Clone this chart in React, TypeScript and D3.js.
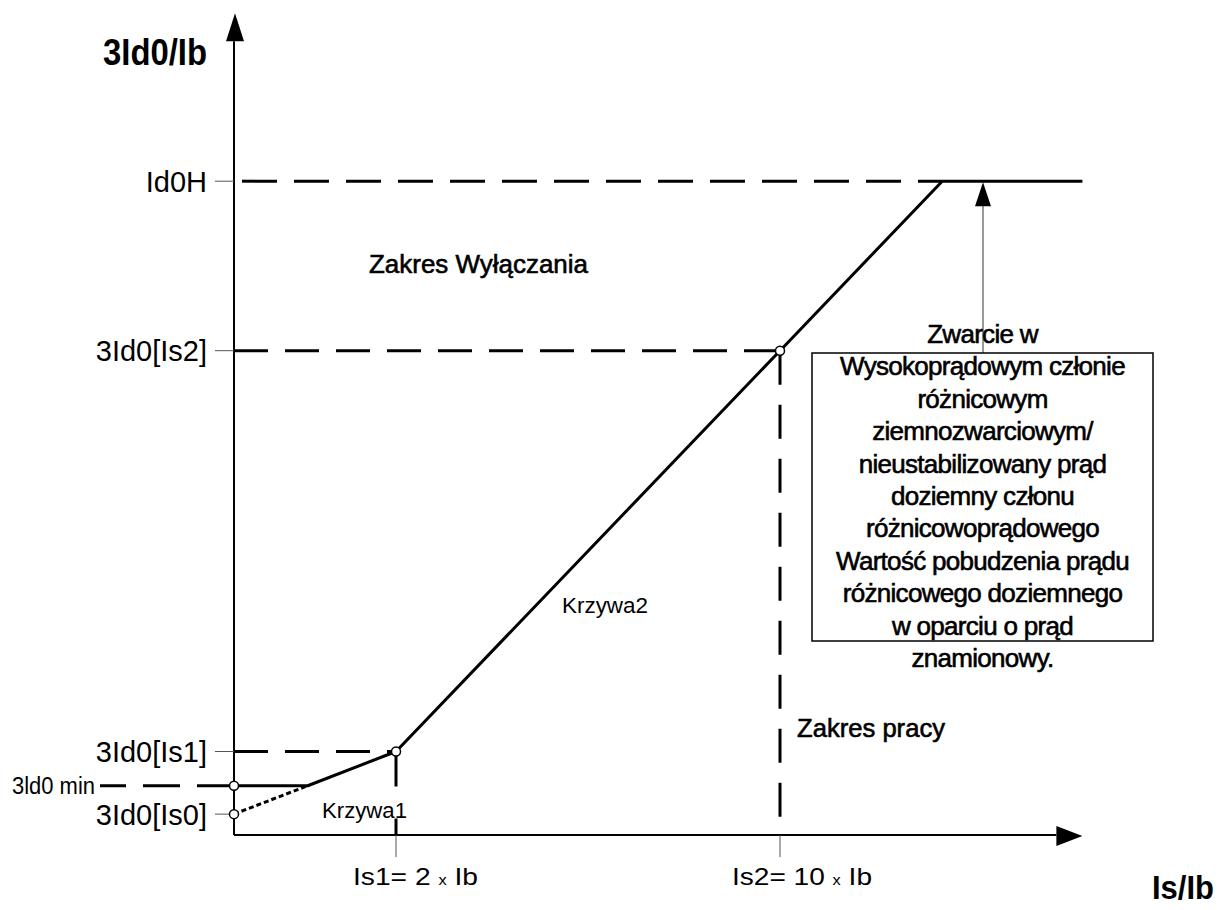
import React, { useEffect } from "react";
import * as d3 from "d3";

// tripping characteristic levels (3Id0/Ib, schematic)
const levelNames = ["3Id0[Is0]", "3ld0 min", "3Id0[Is1]", "3Id0[Is2]", "Id0H"];
const levelValues = [2.5, 5.9, 10, 58, 78.3];

// Is/Ib settings on the x axis
const settingNames = ["Is1= 2", "Is2= 10"];
const settingValues = [2, 10];

// operating curve (solid) and Krzywa1 extension (dotted)
const curveX = [0, 0.91, 2, 10, 13.38, 16.3];
const curveY = [5.9, 5.9, 10, 58, 78.3, 78.3];
const extX = [0, 0.91];
const extY = [2.5, 5.9];

const boxLines = [
  "Zwarcie w",
  "Wysokoprądowym członie",
  "różnicowym",
  "ziemnozwarciowym/",
  "nieustabilizowany prąd",
  "doziemny członu",
  "różnicowoprądowego",
  "Wartość pobudzenia prądu",
  "różnicowego doziemnego",
  "w oparciu o prąd",
  "znamionowy.",
];

const FONT = "'Liberation Sans', Arial, sans-serif";

const App = () => {
  useEffect(() => {
    document.body.style.margin = "0";
  }, []);

  const width = 1218;
  const height = 910;

  // Is/Ib axis is not to scale in the drawing, so use a piecewise scale
  const x = d3.scaleLinear().domain([0, 2, 10]).range([234, 396, 780]);
  const y = d3.scaleLinear().domain([0, 100]).range([835, 0]);

  const xMax = 16.3;
  const yMax = 98.4;
  const x0 = x(0);
  const y0 = y(0);

  const line = d3
    .line<number>()
    .x((d, i) => x(curveX[i]))
    .y((d, i) => y(curveY[i]));
  const extLine = d3
    .line<number>()
    .x((d, i) => x(extX[i]))
    .y((d, i) => y(extY[i]));

  const markers = [
    [0, levelValues[1]],
    [0, levelValues[0]],
    [settingValues[0], levelValues[2]],
    [settingValues[1], levelValues[3]],
  ];

  const idH = y(levelValues[4]);
  const kneeX = x(curveX[4]);
  const boxX = 812;
  const boxY = 353;
  const boxW = 341;
  const boxH = 288;
  const arrowX = boxX + boxW / 2 + 0.5;

  return (
    <svg width={width} height={height} style={{ display: "block", background: "#fff" }}>
      {/* axes */}
      <line x1={x0} y1={y0} x2={x0} y2={y(yMax) + 28} stroke="#000" strokeWidth={2} />
      <polygon
        points={`${x0 + 1},${y(yMax)} ${x0 - 8},${y(yMax) + 28} ${x0 + 10},${y(yMax) + 28}`}
        fill="#000"
      />
      <line x1={x0} y1={y0} x2={x(xMax) - 26} y2={y0} stroke="#000" strokeWidth={2} />
      <polygon
        points={`${x(xMax)},${y0 + 1} ${x(xMax) - 26},${y0 - 9} ${x(xMax) - 26},${y0 + 11}`}
        fill="#000"
      />

      {/* y tick marks and labels */}
      {levelValues.map((v, i) =>
        i === 1 ? null : (
          <line key={"yt" + i} x1={x0 - 19} x2={x0} y1={y(v)} y2={y(v)} stroke="#555" strokeWidth={1} />
        )
      )}
      {levelValues.map((v, i) =>
        i === 1 ? (
          <text key={"yl" + i} x={12} y={y(v) + 8} fontFamily={FONT} fontSize={23} textLength={83} lengthAdjust="spacingAndGlyphs">
            {levelNames[i]}
          </text>
        ) : (
          <text key={"yl" + i} x={207} y={y(v) + 10.5} fontFamily={FONT} fontSize={29} textAnchor="end">
            {levelNames[i]}
          </text>
        )
      )}

      {/* x tick marks and labels */}
      {settingValues.map((v, i) => (
        <line key={"xt" + i} x1={x(v)} x2={x(v)} y1={y0} y2={y0 + 22} stroke="#555" strokeWidth={1} />
      ))}
      {settingValues.map((v, i) => (
        <text
          key={"xl" + i}
          x={i === 0 ? 353 : 732}
          y={885}
          fontFamily={FONT}
          fontSize={24}
          textLength={i === 0 ? 125 : 140}
          lengthAdjust="spacingAndGlyphs"
        >
          {settingNames[i] + " "}
          <tspan fontSize={14}>x</tspan>
          {" Ib"}
        </text>
      ))}

      {/* dashed guides */}
      <line x1={x0} x2={kneeX} y1={idH} y2={idH} stroke="#000" strokeWidth={3} strokeDasharray="35,17" strokeDashoffset={-8} />
      <line x1={x0} x2={x(settingValues[1])} y1={y(levelValues[3])} y2={y(levelValues[3])} stroke="#000" strokeWidth={3} strokeDasharray="34,17" />
      <line x1={x0} x2={x(settingValues[0])} y1={y(levelValues[2])} y2={y(levelValues[2])} stroke="#000" strokeWidth={3} strokeDasharray="34,17" />
      <line x1={x0} x2={100} y1={y(levelValues[1])} y2={y(levelValues[1])} stroke="#000" strokeWidth={3} strokeDasharray="37,17" />
      <line x1={x(settingValues[1])} x2={x(settingValues[1])} y1={y(levelValues[3])} y2={y0} stroke="#000" strokeWidth={3} strokeDasharray="34,20" />
      <line x1={x(settingValues[0])} x2={x(settingValues[0])} y1={y(levelValues[2])} y2={y0} stroke="#000" strokeWidth={3} strokeDasharray="35,32" />

      {/* characteristic */}
      <path d={extLine(extX) ?? ""} fill="none" stroke="#000" strokeWidth={3} strokeDasharray="5,3" />
      <path d={line(curveX) ?? ""} fill="none" stroke="#000" strokeWidth={3} strokeLinejoin="round" />
      {markers.map((m, i) => (
        <circle key={"m" + i} cx={x(m[0])} cy={y(m[1])} r={4.5} fill="#fff" stroke="#000" strokeWidth={1.5} />
      ))}

      {/* region labels */}
      <text x={369} y={273} fontFamily={FONT} fontSize={26} textLength={219} lengthAdjust="spacingAndGlyphs" stroke="#000" strokeWidth={0.6}>
        Zakres Wyłączania
      </text>
      <text x={797} y={737} fontFamily={FONT} fontSize={26} textLength={148} lengthAdjust="spacingAndGlyphs" stroke="#000" strokeWidth={0.6}>
        Zakres pracy
      </text>
      <text x={322} y={818} fontFamily={FONT} fontSize={22} textLength={85} lengthAdjust="spacingAndGlyphs">
        Krzywa1
      </text>
      <text x={562} y={613} fontFamily={FONT} fontSize={22} textLength={86} lengthAdjust="spacingAndGlyphs">
        Krzywa2
      </text>

      {/* annotation box */}
      <line x1={arrowX} x2={arrowX} y1={boxY} y2={idH + 24} stroke="#777" strokeWidth={1.5} />
      <polygon points={`${arrowX},${idH + 1} ${arrowX - 8},${idH + 25} ${arrowX + 8},${idH + 25}`} fill="#000" />
      <rect x={boxX} y={boxY} width={boxW} height={boxH} fill="none" stroke="#000" strokeWidth={1.5} />
      {boxLines.map((t, i) => (
        <text
          key={"b" + i}
          x={boxX + boxW / 2}
          y={343 + i * 32.4}
          fontFamily={FONT}
          fontSize={26}
          textAnchor="middle"
          letterSpacing={-0.7}
          stroke="#000"
          strokeWidth={0.6}
        >
          {t}
        </text>
      ))}

      {/* axis titles */}
      <text x={103} y={65} fontFamily={FONT} fontSize={36} fontWeight="bold" textLength={104} lengthAdjust="spacingAndGlyphs">
        3Id0/Ib
      </text>
      <text x={1152} y={899} fontFamily={FONT} fontSize={33} fontWeight="bold" textLength={62} lengthAdjust="spacingAndGlyphs">
        Is/Ib
      </text>
    </svg>
  );
};

export default App;
